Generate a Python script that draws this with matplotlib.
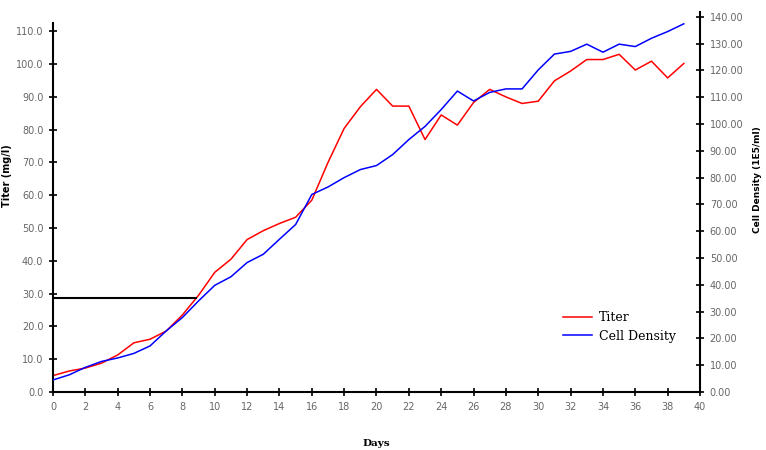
import matplotlib
matplotlib.use("Agg")
import matplotlib.pyplot as plt
from matplotlib.ticker import FormatStrFormatter, MultipleLocator

days = list(range(40))
titer = [5.0, 6.4, 7.3, 8.8, 11.3, 15.0, 16.1, 18.6, 23.5, 29.5,
         36.5, 40.5, 46.5, 49.2, 51.4, 53.3, 58.5, 70.0, 80.4, 87.0,
         92.3, 87.2, 87.2, 77.0, 84.5, 81.4, 88.3, 92.3, 90.0, 88.0,
         88.7, 94.9, 97.9, 101.4, 101.4, 103.0, 98.2, 100.9, 95.8, 100.2]
cell_density = [4.5, 6.4, 9.2, 11.4, 12.7, 14.4, 17.2, 22.8, 27.8, 34.0,
                39.8, 43.0, 48.3, 51.4, 57.0, 62.5, 73.7, 76.5, 80.0, 83.0,
                84.5, 88.6, 94.2, 99.1, 105.4, 112.3, 108.6, 111.8, 113.1, 113.1,
                120.2, 126.1, 127.1, 129.8, 126.8, 129.8, 128.9, 132.0, 134.5, 137.4]
ref_x = [0, 8.85]
ref_y = [28.8, 28.8]

fig = plt.figure(figsize=(7.66, 4.5), dpi=100)
ax = fig.add_axes([53/766, 1-392/450, 647/766, 380/450])
ax2 = ax.twinx()

l1, = ax.plot(days, titer, color='#ff0000', lw=1.1, label='Titer')
l2, = ax2.plot(days, cell_density, color='#0000ff', lw=1.1, label='Cell Density')
ax.plot(ref_x, ref_y, color='black', lw=1.5)

ax.set_xlim(0, 40)
ax.set_ylim(0, 115.9)
ax2.set_ylim(0, 141.8)

ax.xaxis.set_major_locator(MultipleLocator(2))
ax.set_yticks([i*10 for i in range(12)])
ax2.set_yticks([i*10 for i in range(15)])
ax.yaxis.set_major_formatter(FormatStrFormatter('%.1f'))
ax2.yaxis.set_major_formatter(FormatStrFormatter('%.2f'))

for a in (ax, ax2):
    a.spines['top'].set_visible(False)
    for s in a.spines.values():
        s.set_linewidth(1.5)
ax.spines['right'].set_visible(False)
ax2.spines['left'].set_visible(False)
ax2.spines['bottom'].set_visible(False)
ax.spines['left'].set_bounds(0, 112.5)

tick_color = '#666666'
ax.tick_params(axis='both', direction='inout', length=6, width=1.2, labelsize=7,
               labelcolor=tick_color, pad=4)
ax2.tick_params(axis='y', direction='inout', length=6, width=1.2, labelsize=7,
                labelcolor=tick_color, pad=4)

ax.set_xlabel('Days', fontsize=7.5, fontweight='bold', family='DejaVu Serif')
ax.xaxis.set_label_coords(0.5, -0.125)
ax.set_ylabel('Titer (mg/l)', fontsize=7, fontweight='bold')
ax.yaxis.set_label_coords(-0.063, 0.57)
ax2.set_ylabel('Cell Density (1E5/ml)', fontsize=6.5, fontweight='bold', rotation=90)
ax2.yaxis.set_label_coords(1.082, 0.56)

leg = ax.legend(handles=[l1, l2], loc='upper left', bbox_to_anchor=((558-53)/647, (392-306)/380),
                frameon=False, fontsize=9, handlelength=2.3, handletextpad=0.6,
                labelspacing=0.45, borderaxespad=0, prop={'family': 'DejaVu Serif', 'size': 9})

fig.savefig('out.png', dpi=100)
